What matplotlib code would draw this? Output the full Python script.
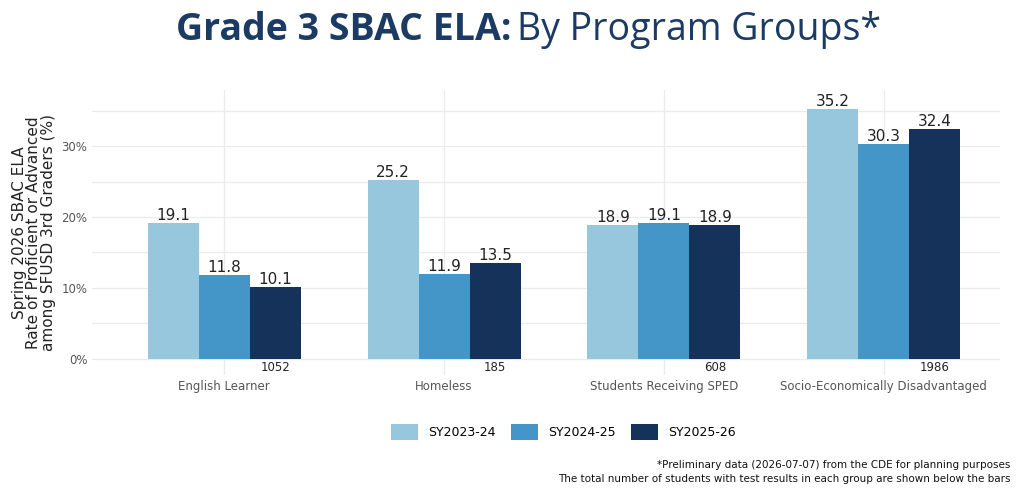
import matplotlib.pyplot as plt
import numpy as np

groups = ['English Learner', 'Homeless', 'Students Receiving SPED', 'Socio-Economically Disadvantaged']
years = ['SY2023-24', 'SY2024-25', 'SY2025-26']
sy2324 = [19.1, 25.2, 18.9, 35.2]
sy2425 = [11.8, 11.9, 19.1, 30.3]
sy2526 = [10.1, 13.5, 18.9, 32.4]
counts = [1052, 185, 608, 1986]
colors = ['#97c7dc', '#4496c8', '#14325a']

fig = plt.figure(figsize=(10.24, 4.92), dpi=100)
ax = fig.add_axes([0.09, 0.238, 0.887, 0.58])

x = np.arange(len(groups))
w = 0.232
for i, (vals, c, lab) in enumerate(zip([sy2324, sy2425, sy2526], colors, years)):
    xs = x + (i - 1) * w
    ax.bar(xs, vals, w, color=c, label=lab, zorder=2)
    for xi, v in zip(xs, vals):
        ax.text(xi, v, f'{v:.1f}', ha='center', va='bottom', fontsize=11, color='#222222')
for xi, n in zip(x, counts):
    ax.text(xi + w, -0.3, str(n), ha='center', va='top', fontsize=8.5, color='#222222')

ax.set_xlim(-0.6, 3.53)
ax.set_ylim(-2.3, 38)
ax.set_yticks([0, 10, 20, 30])
ax.set_yticklabels(['0%', '10%', '20%', '30%'])
ax.set_yticks([5, 15, 25, 35], minor=True)
ax.set_xticks(x)
ax.set_xticklabels(groups)
ax.tick_params(length=0, labelsize=8.5, colors='#555555', which='both')
ax.grid(True, which='both', color='#ebebeb', lw=0.9, zorder=0)
for s in ax.spines.values():
    s.set_visible(False)
ax.set_ylabel('Spring 2026 SBAC ELA\nRate of Proficient or Advanced\namong SFUSD 3rd Graders (%)',
              fontsize=11, color='#222222', linespacing=0.95)

fig.legend(loc='center', bbox_to_anchor=(0.55, 0.122), ncol=3, frameon=False,
           fontsize=9, handlelength=2.2, handleheight=1.6, columnspacing=1.2)

fig.text(0.5, 0.94, 'Grade 3 SBAC ELA:', fontsize=27, fontweight='bold', color='#1b3a64',
         ha='right', va='center', family='Open Sans')
fig.text(0.505, 0.94, 'By Program Groups*', fontsize=27, color='#1b3a64',
         ha='left', va='center', family='Open Sans')

fig.text(0.987, 0.055, '*Preliminary data (2026-07-07) from the CDE for planning purposes',
         ha='right', va='center', fontsize=7.5, color='#111111')
fig.text(0.987, 0.027, 'The total number of students with test results in each group are shown below the bars',
         ha='right', va='center', fontsize=7.5, color='#111111')

fig.savefig('out.png', dpi=100, facecolor='white')
